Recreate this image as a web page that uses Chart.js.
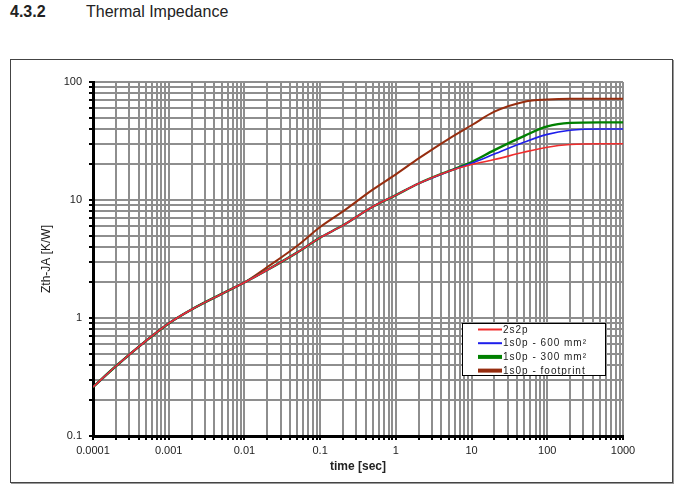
<!DOCTYPE html>
<html>
<head>
<meta charset="utf-8">
<script src="https://cdn.jsdelivr.net/npm/chart.js@4"></script>
<style>
  html, body { margin: 0; padding: 0; background: #fff; }
  body { width: 685px; height: 484px; position: relative; overflow: hidden; font-family: "Liberation Sans", Arial, sans-serif; }
  #head { position: absolute; top: 3px; left: 10px; font-size: 16px; color: #222; white-space: nowrap; }
  #head b { display: inline-block; width: 76px; }
  #frame { position: absolute; left: 10px; top: 59px; width: 661px; height: 422px; border: 1px solid #444; box-shadow: 1px 1px 0 #999; }
  #wrap { position: absolute; left: 0; top: 0; width: 685px; height: 484px; }
</style>
</head>
<body>
<div id="head"><b>4.3.2</b>Thermal Impedance</div>
<div id="frame"></div>
<div id="wrap"><canvas id="zthChart"></canvas></div>
<script>
// --- dados ---
const times = [0.0001, 0.0002, 0.0005, 0.001, 0.002, 0.005, 0.01, 0.02, 0.05, 0.1, 0.2, 0.5,
               1, 2, 5, 10, 20, 50, 100, 200, 500, 1000];
const zth2s2p =      [0.26, 0.39, 0.64, 0.9, 1.18, 1.6, 2.0, 2.55, 3.6, 4.8, 6.1, 8.8,
                      11, 13.8, 17.5, 20, 22, 25.5, 28, 29.5, 30, 30];
const zth600 =       [0.26, 0.39, 0.64, 0.9, 1.18, 1.6, 2.0, 2.55, 3.6, 4.8, 6.1, 8.8,
                      11, 13.8, 17.5, 20.5, 24.5, 31, 36, 39, 40, 40];
const zth300 =       [0.26, 0.39, 0.64, 0.9, 1.18, 1.6, 2.0, 2.55, 3.6, 4.8, 6.1, 8.8,
                      11, 13.8, 17.6, 21, 26.5, 35, 42, 45, 45.5, 45.5];
const zthFootprint = [0.26, 0.39, 0.64, 0.9, 1.18, 1.6, 2.0, 2.7, 4.1, 5.9, 8.0, 12.3,
                      16.5, 22.5, 33, 43, 56, 68, 71, 72, 72, 72];

const seriesLabels = ['2s2p', '1s0p - 600 mm\u00b2', '1s0p - 300 mm\u00b2', '1s0p - footprint'];

const xMajor = [0.0001, 0.001, 0.01, 0.1, 1, 10, 100, 1000];
const xTickLabels = ['0.0001', '0.001', '0.01', '0.1', '1', '10', '100', '1000'];
const yMajor = [0.1, 1, 10, 100];
const yTickLabels = ['0.1', '1', '10', '100'];

// linhas de grade 1..9 em cada década
function logGrid(majors) {
    const out = [];
    for (let i = 0; i < majors.length - 1; i++) {
        for (let k = 1; k < 10; k++) out.push(majors[i] * k);
    }
    out.push(majors[majors.length - 1]);
    return out;
}
function majorLabel(value, majors, labels) {
    const i = majors.findIndex(m => Math.abs(value / m - 1) < 1e-6);
    return i >= 0 ? labels[i] : '';
}

const FONT = '"Liberation Sans", Arial, sans-serif';

// legenda desenhada dentro da área do gráfico
const legendBox = {
    id: 'legendBox',
    afterDraw(chart) {
        const { ctx, chartArea } = chart;
        const w = 143, h = 52;
        const x0 = chartArea.right - 18 - w;
        const y0 = chartArea.bottom - 61 - h;
        ctx.save();
        ctx.fillStyle = '#fff';
        ctx.fillRect(x0, y0, w, h);
        ctx.strokeStyle = '#000';
        ctx.lineWidth = 1;
        ctx.strokeRect(x0 + 0.5, y0 + 0.5, w, h);
        ctx.font = '10px ' + FONT;
        ctx.textBaseline = 'middle';
        if ('letterSpacing' in ctx) ctx.letterSpacing = '1px';
        chart.data.datasets.forEach((ds, i) => {
            const y = y0 + 6.5 + i * 13.7;
            ctx.strokeStyle = ds.borderColor;
            ctx.lineWidth = ds.legendWidth;
            ctx.beginPath();
            ctx.moveTo(x0 + 16, y);
            ctx.lineTo(x0 + 40, y);
            ctx.stroke();
            ctx.fillStyle = '#222';
            ctx.fillText(ds.label, x0 + 41, y + 0.5);
        });
        ctx.restore();
    }
};

document.addEventListener('DOMContentLoaded', function() {
    const mk = (arr) => times.map((t, i) => ({ x: t, y: arr[i] }));
    const ctx = document.getElementById('zthChart').getContext('2d');
    new Chart(ctx, {
        type: 'line',
        data: {
            datasets: [
                { label: seriesLabels[0], data: mk(zth2s2p), borderColor: 'rgb(240,45,45)', borderWidth: 1.6, legendWidth: 2 },
                { label: seriesLabels[1], data: mk(zth600), borderColor: 'rgb(30,30,235)', borderWidth: 1.6, legendWidth: 2 },
                { label: seriesLabels[2], data: mk(zth300), borderColor: 'rgb(0,128,0)', borderWidth: 2.4, legendWidth: 4 },
                { label: seriesLabels[3], data: mk(zthFootprint), borderColor: 'rgb(150,45,15)', borderWidth: 2, legendWidth: 4 }
            ]
        },
        options: {
            responsive: true,
            maintainAspectRatio: false,
            animation: false,
            layout: { padding: { left: 0, right: 62, top: 82, bottom: 0 } },
            elements: {
                point: { radius: 0 },
                line: { cubicInterpolationMode: 'monotone', fill: false }
            },
            plugins: { legend: { display: false }, tooltip: { enabled: false } },
            scales: {
                x: {
                    type: 'logarithmic',
                    min: xMajor[0],
                    max: xMajor[xMajor.length - 1],
                    afterBuildTicks: s => { s.ticks = logGrid(xMajor).map(v => ({ value: v })); },
                    afterFit: s => { s.height = 48; },
                    grid: { color: '#8e8e8e', lineWidth: 2, tickColor: '#000', tickLength: 4, tickWidth: 2 },
                    border: { color: '#000', width: 3 },
                    ticks: {
                        autoSkip: false, maxRotation: 0, padding: 4, color: '#222',
                        font: { family: FONT, size: 11 },
                        callback: v => majorLabel(v, xMajor, xTickLabels)
                    },
                    title: {
                        display: true, text: 'time [sec]', color: '#222',
                        font: { family: FONT, size: 12, weight: 'bold' },
                        padding: { top: 0, bottom: 10 }
                    }
                },
                y: {
                    type: 'logarithmic',
                    min: yMajor[0],
                    max: yMajor[yMajor.length - 1],
                    afterBuildTicks: s => { s.ticks = logGrid(yMajor).map(v => ({ value: v })); },
                    afterFit: s => { s.width = 93; },
                    grid: { color: '#8e8e8e', lineWidth: 2, tickColor: '#000', tickLength: 4, tickWidth: 2 },
                    border: { color: '#000', width: 3 },
                    ticks: {
                        autoSkip: false, padding: 7, color: '#222',
                        font: { family: FONT, size: 11 },
                        callback: v => majorLabel(v, yMajor, yTickLabels)
                    },
                    title: {
                        display: true, text: 'Zth-JA [K/W]', color: '#222',
                        font: { family: FONT, size: 12 },
                        padding: { top: 39, bottom: 0 }
                    }
                }
            }
        },
        plugins: [legendBox]
    });
});
</script>
</body>
</html>
